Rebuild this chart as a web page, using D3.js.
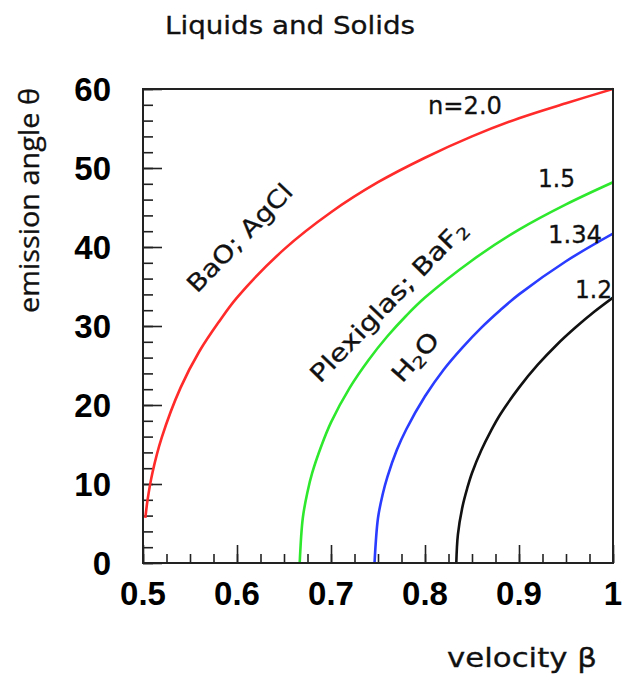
<!DOCTYPE html>
<html>
<head>
<meta charset="utf-8">
<script src="https://cdn.jsdelivr.net/npm/d3@7"></script>
<style>
  html, body { margin: 0; padding: 0; background: #fff; }
  svg { display: block; }
</style>
</head>
<body>
<svg id="chart" width="630" height="683"></svg>
<script>
// ---- data (velocity beta, emission angle theta in degrees) ----
const betaN20  = [0.5025, 0.505, 0.51, 0.52, 0.54, 0.56, 0.58, 0.60, 0.65, 0.70, 0.75, 0.80, 0.85, 0.90, 0.95, 1.00];
const thetaN20 = [5.7, 8.1, 11.4, 15.9, 22.2, 26.8, 30.4, 33.6, 39.7, 44.4, 48.2, 51.3, 54.0, 56.3, 58.2, 60.0];

const betaN15  = [0.6667, 0.67, 0.675, 0.68, 0.69, 0.70, 0.72, 0.74, 0.76, 0.78, 0.80, 0.85, 0.90, 0.95, 1.00];
const thetaN15 = [0, 5.7, 9.0, 11.4, 14.9, 17.8, 22.2, 25.7, 28.7, 31.3, 33.6, 38.3, 42.2, 45.4, 48.2];

const betaN134  = [0.7463, 0.75, 0.755, 0.76, 0.77, 0.78, 0.80, 0.82, 0.84, 0.86, 0.88, 0.90, 0.95, 1.00];
const thetaN134 = [0, 5.7, 8.7, 10.9, 14.3, 16.9, 21.1, 24.5, 27.3, 29.8, 32.0, 34.0, 38.2, 41.7];

const betaN12  = [0.8333, 0.835, 0.84, 0.845, 0.85, 0.86, 0.87, 0.88, 0.90, 0.92, 0.94, 0.96, 0.98, 1.00];
const thetaN12 = [0, 3.6, 7.2, 9.5, 11.4, 14.3, 16.7, 18.8, 22.2, 25.1, 27.6, 29.8, 31.8, 33.6];

const seriesNames  = ["n=2.0", "1.5", "1.34", "1.2"];
const seriesColors = ["#ff2a2a", "#2ee82e", "#2a3cff", "#111111"];

const xTickValues = [0.5, 0.6, 0.7, 0.8, 0.9, 1.0];
const xTickLabels = ["0.5", "0.6", "0.7", "0.8", "0.9", "1"];
const yTickValues = [0, 10, 20, 30, 40, 50, 60];
const yTickLabels = ["0", "10", "20", "30", "40", "50", "60"];

const titleText = "Liquids and Solids";
const xTitle = "velocity \u03B2";
const yTitle = "emission angle \u03B8";

// ---- layout ----
const L = 143, R = 613, T = 89, B = 563;
const svg = d3.select("#chart");
const x = d3.scaleLinear().domain([0.5, 1.0]).range([L, R]);
const y = d3.scaleLinear().domain([0, 60]).range([B, T]);

const comic = "'DejaVu Sans', 'Open Sans', sans-serif";
const bold = "'Liberation Sans', Arial, Helvetica, sans-serif";

// minor ticks
const xMinor = d3.range(0, 21).map(i => 0.5 + i * 0.025);
const yMinor = d3.range(0, 31).map(i => i * 2);

const xAxisMinor = d3.axisBottom(x).tickValues(xMinor).tickSize(-9).tickFormat("");
const xAxisMajor = d3.axisBottom(x).tickValues(xTickValues).tickSize(-18).tickFormat("");
const yAxisMinor = d3.axisLeft(y).tickValues(yMinor).tickSize(-10).tickFormat("");
const yAxisMajor = d3.axisLeft(y).tickValues(yTickValues).tickSize(-19).tickFormat("");

function styleAxis(g) {
  g.select(".domain").remove();
  g.selectAll(".tick line").attr("stroke", "#222").attr("stroke-width", 1.6);
}
svg.append("g").attr("transform", `translate(0,${B})`).call(xAxisMinor).call(styleAxis);
svg.append("g").attr("transform", `translate(0,${B})`).call(xAxisMajor).call(styleAxis);
svg.append("g").attr("transform", `translate(${L},0)`).call(yAxisMinor).call(styleAxis);
svg.append("g").attr("transform", `translate(${L},0)`).call(yAxisMajor).call(styleAxis);

// tick labels
svg.append("g").selectAll("text").data(xTickValues).join("text")
  .attr("x", d => x(d)).attr("y", 605)
  .attr("text-anchor", "middle")
  .attr("font-family", bold).attr("font-weight", "bold").attr("font-size", 33)
  .attr("fill", "#000")
  .text((d, i) => xTickLabels[i]);

svg.append("g").selectAll("text").data(yTickValues).join("text")
  .attr("x", 111).attr("y", d => y(d) + 12)
  .attr("text-anchor", "end")
  .attr("font-family", bold).attr("font-weight", "bold").attr("font-size", 33)
  .attr("fill", "#000")
  .text((d, i) => yTickLabels[i]);

// curves
svg.append("clipPath").attr("id", "plotclip")
  .append("rect").attr("x", L).attr("y", T - 2).attr("width", R - L).attr("height", B - T + 2);

const line = d3.line().x(d => x(d[0])).y(d => y(d[1])).curve(d3.curveCatmullRom.alpha(0.5));
const allSeries = [
  d3.zip(betaN20, thetaN20),
  d3.zip(betaN15, thetaN15),
  d3.zip(betaN134, thetaN134),
  d3.zip(betaN12, thetaN12)
];
svg.append("g").attr("clip-path", "url(#plotclip)")
  .selectAll("path").data(allSeries).join("path")
  .attr("d", line)
  .attr("fill", "none")
  .attr("stroke", (d, i) => seriesColors[i])
  .attr("stroke-width", 2.6)
  .attr("stroke-linejoin", "round");

// frame
svg.append("rect").attr("x", L).attr("y", T).attr("width", R - L).attr("height", B - T)
  .attr("fill", "none").attr("stroke", "#222").attr("stroke-width", 2);

// titles
svg.append("text").attr("x", 165).attr("y", 34)
  .attr("font-family", comic).attr("font-size", 24).attr("fill", "#111")
  .attr("stroke", "#111").attr("stroke-width", 0.3)
  .attr("textLength", 250).attr("lengthAdjust", "spacingAndGlyphs")
  .text(titleText);

svg.append("text").attr("x", 447).attr("y", 667)
  .attr("font-family", comic).attr("font-size", 26).attr("fill", "#111")
  .attr("stroke", "#111").attr("stroke-width", 0.3)
  .attr("textLength", 150).attr("lengthAdjust", "spacingAndGlyphs")
  .text(xTitle);

svg.append("text").attr("transform", "translate(39,313) rotate(-90)")
  .attr("x", 0).attr("y", 0)
  .attr("font-family", "'Open Sans', 'Liberation Sans', sans-serif").attr("font-size", 27).attr("fill", "#111")
  .attr("stroke", "#111").attr("stroke-width", 0.3)
  .attr("textLength", 225).attr("lengthAdjust", "spacingAndGlyphs")
  .text(yTitle);

// curve value labels
const valueLabelPos = [[428, 114, 74], [538, 187, 37], [548, 243, 54], [575, 298, 37]];
svg.append("g").selectAll("text").data(seriesNames).join("text")
  .attr("x", (d, i) => valueLabelPos[i][0]).attr("y", (d, i) => valueLabelPos[i][1])
  .attr("font-family", comic).attr("font-size", 24).attr("fill", "#111")
  .attr("stroke", "#111").attr("stroke-width", 0.3)
  .attr("textLength", (d, i) => valueLabelPos[i][2]).attr("lengthAdjust", "spacingAndGlyphs")
  .text(d => d);

// material labels (rotated)
function rotLabel(px, py, ang, len, parts) {
  const t = svg.append("text").attr("transform", `translate(${px},${py}) rotate(${ang})`)
    .attr("font-family", comic).attr("font-size", 24).attr("fill", "#111")
    .attr("stroke", "#111").attr("stroke-width", 0.3)
    .attr("textLength", len).attr("lengthAdjust", "spacingAndGlyphs");
  parts.forEach(p => {
    const s = t.append("tspan").text(p.t);
    if (p.sub) s.attr("font-size", 16).attr("dy", 4);
    if (p.after) s.attr("dy", -4);
  });
}
rotLabel(197, 294, -46, 140, [{t: "BaO; AgCl"}]);
rotLabel(320, 384, -46, 214, [{t: "Plexiglas; BaF"}, {t: "2", sub: true}]);
rotLabel(402, 384, -48, 58, [{t: "H"}, {t: "2", sub: true}, {t: "O", after: true}]);
</script>
</body>
</html>
